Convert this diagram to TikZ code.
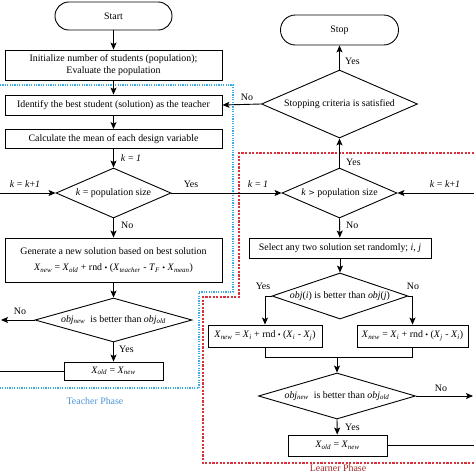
\documentclass[tikz,border=0pt]{standalone}
\usepackage{fontspec}
\setmainfont{Liberation Serif}
\usetikzlibrary{shapes.geometric,arrows.meta}
\definecolor{tblue}{RGB}{60,170,230}
\definecolor{lred}{RGB}{215,50,60}
\definecolor{tbluetxt}{RGB}{75,150,215}
\definecolor{lredtxt}{RGB}{160,40,40}
\newcommand\Xsb[2]{\textit{#1}\textsubscript{\textit{#2}}}
\newcommand\bdot{\raisebox{0.1ex}{\scalebox{0.8}{•}}}
\begin{document}
\begin{tikzpicture}[x=1pt,y=-1pt,
  every node/.style={font=\fontsize{9.9}{11.5}\selectfont, inner sep=1pt},
  box/.style={draw, line width=0.9pt, rectangle, inner sep=0pt, align=center},
  term/.style={draw, line width=0.9pt, rectangle, inner sep=0pt},
  dia/.style={draw, line width=0.9pt, diamond, inner sep=0pt},
  arr/.style={line width=0.9pt, -{Stealth[length=7pt,width=6pt,inset=1.5pt]}},
  ln/.style={line width=0.9pt},
  tphase/.style={draw=tblue, line width=1.1pt, dash pattern=on 1.2pt off 1.2pt},
  lphase/.style={draw=lred, line width=1.1pt, dash pattern=on 2.2pt off 1.4pt}
]
\useasboundingbox (0,0) rectangle (474,474);
% phase frames
\draw[tphase] (0,85) -- (233,85) -- (233,292) -- (199,292) -- (199,388) -- (0,388);
\draw[lphase] (474,153) -- (239,153) -- (239,297) -- (203,297) -- (203,463) -- (474,463);
\node[text=tbluetxt] (tp) at (95,401) {Teacher Phase};
\node[text=lredtxt] (lp) at (338,468.5) {Learner Phase};

% left column
\node[term, rounded corners=13.9pt, minimum width=117pt, minimum height=28pt] (start) at (113.5,16) {Start};
\node[box, minimum width=217pt, minimum height=30pt] (init) at (113.5,65) {Initialize number of students (population);\\Evaluate the population};
\node[box, minimum width=217pt, minimum height=20pt] (ident) at (113.5,105) {Identify the best student (solution) as the teacher};
\node[box, minimum width=217pt, minimum height=19pt] (calc) at (113.5,139) {Calculate the mean of each design variable};
\node[dia, minimum width=115pt, minimum height=50pt, label=center:{\textit{k} = population size}] (d1) at (113.5,193) {};
\node[box, minimum width=217pt, minimum height=44pt] (gen) at (113.5,260) {Generate a new solution based on best solution\\[5pt]\Xsb{X}{new} = \Xsb{X}{old} + rnd \bdot\ (\Xsb{X}{teacher} - \Xsb{T}{F} \bdot\ \Xsb{X}{mean})};
\node[dia, minimum width=157pt, minimum height=44pt, label=center:{\Xsb{obj}{new}\ \ is better than \Xsb{obj}{old}}] (d3) at (113.5,320) {};
\node[box, minimum width=99pt, minimum height=18pt] (xo1) at (113.5,371) {\Xsb{X}{old} = \Xsb{X}{new}};

% right column
\node[term, rounded corners=14.9pt, minimum width=118pt, minimum height=30pt] (stop) at (339.5,30) {Stop};
\node[dia, minimum width=156pt, minimum height=68pt, label=center:{Stopping criteria is satisfied}] (sd) at (339.5,104) {};
\node[dia, minimum width=115pt, minimum height=50pt, label=center:{\textit{k} {\fontspec{DejaVu Serif}\scalebox{0.8}{>}} population size}] (d2) at (339.5,193) {};
\node[box, minimum width=182pt, minimum height=20pt] (sel) at (340,248) {Select any two solution set randomly; \textit{i}, \textit{j}};
\node[dia, minimum width=136pt, minimum height=46pt, label=center:{\textit{obj}(\textit{i}) is better than \textit{obj}(\textit{j})}] (d4) at (340,296) {};
\node[box, minimum width=114pt, minimum height=22pt] (fl) at (265,336) {\Xsb{X}{new} = \Xsb{X}{i} + rnd \bdot\ (\Xsb{X}{i} - \Xsb{X}{j})};
\node[box, minimum width=111pt, minimum height=22pt] (fr) at (412.5,336) {\Xsb{X}{new} = \Xsb{X}{i} + rnd \bdot\ (\Xsb{X}{j} - \Xsb{X}{i})};
\node[dia, minimum width=157pt, minimum height=46pt, label=center:{\Xsb{obj}{new}\ \ is better than \Xsb{obj}{old}}] (d5) at (337,396) {};
\node[box, minimum width=99pt, minimum height=21pt] (xo2) at (337.5,445.5) {\Xsb{X}{old} = \Xsb{X}{new}};

% free ends
\coordinate (inL) at (0,193);
\coordinate (inR) at (474,193);
\coordinate (outL) at (1,320);
\coordinate (backL) at (0,371);
\coordinate (outR) at (473,396);
\coordinate (backR) at (474,445.5);
\coordinate (jl) at (265,357);
\coordinate (jr) at (412.5,357);
\coordinate (jm) at (337,357);

% connectors left
\draw[arr] (start) -- (init);
\draw[arr] (init) -- (ident);
\draw[arr] (ident) -- (calc);
\draw[arr] (calc) -- (d1.north);
\draw[arr] (inL) -- (d1.west);
\draw[arr] (d1.east) -- (d2.west);
\draw[arr] (d1.south) -- (gen);
\draw[arr] (gen) -- (d3.north);
\draw[arr] (d3.west) -- (outL);
\draw[arr] (d3.south) -- (xo1);
\draw[ln] (xo1.west) -- (backL);
% connectors right
\draw[arr] (d2.north) -- (sd.south);
\draw[arr] (sd.north) -- (stop);
\draw[arr] (sd.west) -- (ident.east);
\draw[arr] (inR) -- (d2.east);
\draw[arr] (d2.south) -- (sel);
\draw[arr] (sel) -- (d4.north);
\draw[arr] (d4.west) -| (fl.north);
\draw[arr] (d4.east) -| (fr.north);
\draw[ln] (fl.south) -- (jl) -- (jr) -- (fr.south);
\draw[arr] (jm) -- (d5.north);
\draw[arr] (d5.east) -- (outR);
\draw[arr] (d5.south) -- (xo2);
\draw[ln] (xo2.east) -- (backR);

% edge labels
\node (l1) at (131,158) {\textit{k} = \textit{1}};
\node (l2) at (25,184) {\textit{k} = \textit{k}+\textit{1}};
\node (l3) at (191,184) {Yes};
\node (l4) at (258,184) {\textit{k} = \textit{1}};
\node (l5) at (445,184) {\textit{k} = \textit{k}+\textit{1}};
\node[anchor=west] (l6) at (120,225) {No};
\node (l7) at (20,311) {No};
\node[anchor=west] (l8) at (118,349) {Yes};
\node[anchor=west] (l9) at (344,61) {Yes};
\node (l10) at (247,97) {No};
\node[anchor=west] (l11) at (345,162) {Yes};
\node[anchor=west] (l12) at (345,225) {No};
\node (l13) at (263,286) {Yes};
\node (l14) at (413,286) {No};
\node (l15) at (441,388) {No};
\node[anchor=west] (l16) at (344,427) {Yes};
\end{tikzpicture}
\end{document}
